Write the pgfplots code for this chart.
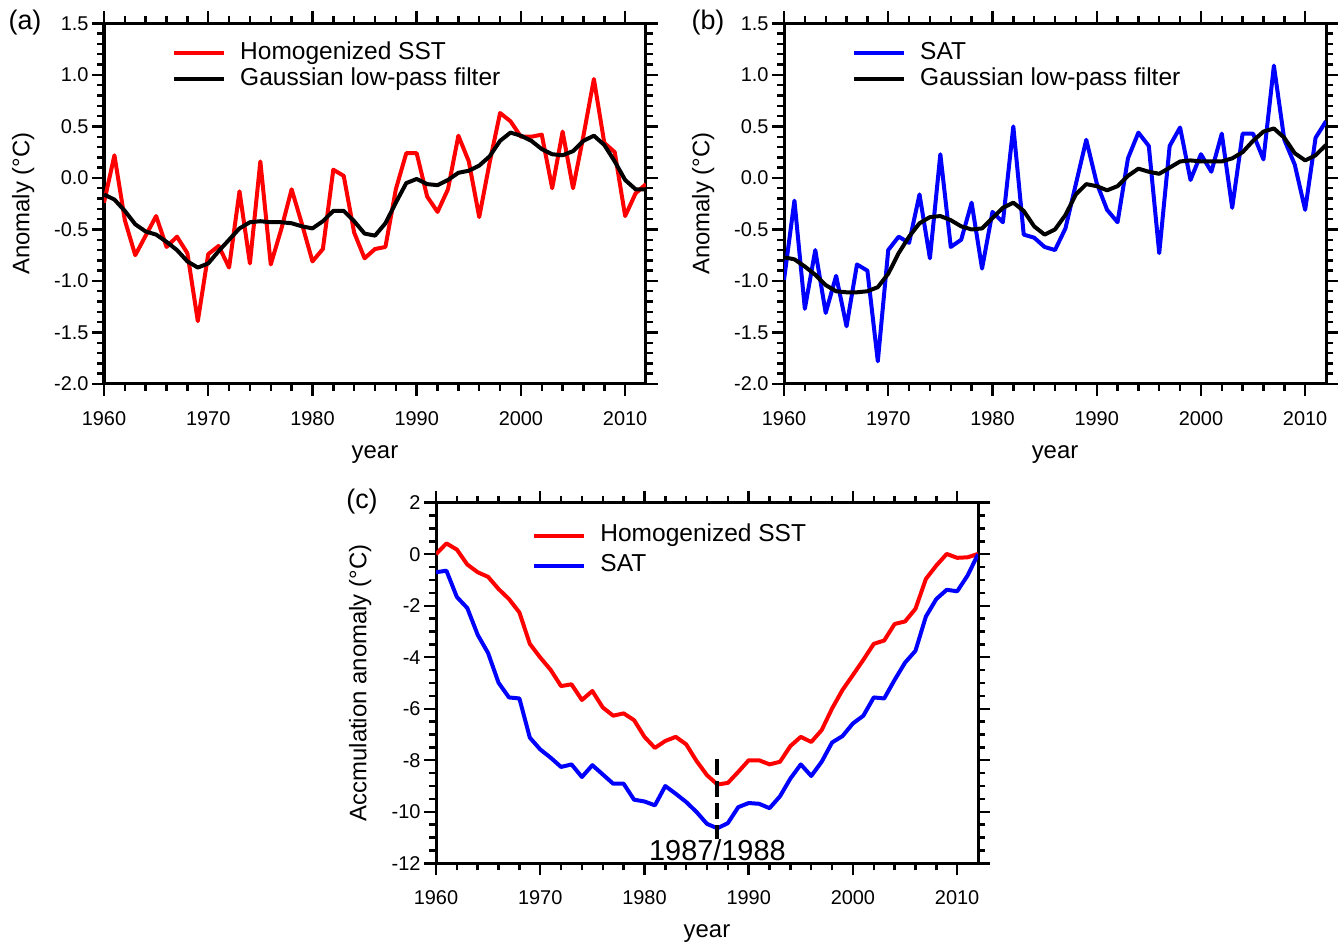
\documentclass[border=0pt]{standalone}
\usepackage{pgfplots}
\pgfplotsset{compat=1.18}
\usepackage{fontspec}
\setmainfont{Liberation Sans}

\pgfplotsset{
  myaxis/.style={
    scale only axis, width=542bp, height=360.6bp,
    xmin=1960, xmax=2012,
    xtick={1960,1970,1980,1990,2000,2010},
    minor x tick num=4,
    xtick pos=both, ytick pos=both,
    xticklabel pos=lower, yticklabel pos=left,
    tick align=outside,
    major tick length=12bp, minor tick length=7bp,
    every tick/.append style={black, line width=2.4bp},
    axis line style={line width=3bp},
    ticklabel style={font=\fontsize{20}{24}\selectfont},
    /pgf/number format/assume math mode=true,
    xticklabel style={/pgf/number format/1000 sep={}, yshift=-12bp},
    label style={font=\fontsize{24}{28}\selectfont},
    xlabel={year},
    xlabel style={at={(axis description cs:0.5,-0.195)}, anchor=center},
    legend cell align=left,
    legend image code/.code={\draw[#1] (0bp,0bp) -- (50bp,0bp);},
    legend style={draw=none, fill=none, inner sep=0bp, anchor=north west,
      font=\fontsize{24.6}{28}\selectfont,
      nodes={inner sep=0bp, text height=18bp, text depth=6bp},
      row sep=2bp,
      /tikz/every odd column/.append style={column sep=14bp}},
    every axis plot/.append style={line width=4bp, line join=round},
  },
  anomaxis/.style={
    ymin=-2, ymax=1.5,
    ytick={-2,-1.5,-1,-0.5,0,0.5,1,1.5},
    minor y tick num=4,
    yticklabel style={/pgf/number format/.cd, fixed, fixed zerofill, precision=1},
    ylabel={Anomaly (°C)},
    ylabel style={at={(axis description cs:-0.149,0.5)}, anchor=center},
  },
}

\pgfplotstableread{
year sst sstf
1960 -0.24 -0.16
1961 0.22 -0.21
1962 -0.41 -0.32
1963 -0.75 -0.45
1964 -0.56 -0.52
1965 -0.37 -0.55
1966 -0.67 -0.62
1967 -0.57 -0.70
1968 -0.73 -0.81
1969 -1.39 -0.87
1970 -0.74 -0.83
1971 -0.66 -0.71
1972 -0.87 -0.60
1973 -0.13 -0.49
1974 -0.83 -0.43
1975 0.16 -0.42
1976 -0.84 -0.43
1977 -0.50 -0.43
1978 -0.11 -0.44
1979 -0.45 -0.47
1980 -0.81 -0.49
1981 -0.69 -0.42
1982 0.08 -0.32
1983 0.02 -0.32
1984 -0.53 -0.42
1985 -0.78 -0.54
1986 -0.69 -0.56
1987 -0.67 -0.44
1988 -0.11 -0.24
1989 0.24 -0.05
1990 0.24 -0.01
1991 -0.18 -0.06
1992 -0.33 -0.07
1993 -0.11 -0.02
1994 0.41 0.05
1995 0.16 0.07
1996 -0.38 0.12
1997 0.15 0.21
1998 0.63 0.36
1999 0.55 0.44
2000 0.40 0.41
2001 0.40 0.36
2002 0.42 0.28
2003 -0.10 0.23
2004 0.45 0.22
2005 -0.10 0.26
2006 0.41 0.36
2007 0.96 0.41
2008 0.34 0.32
2009 0.25 0.16
2010 -0.37 -0.02
2011 -0.15 -0.11
2012 -0.06 -0.11
}\sstdata

\pgfplotstableread{
year sat satf
1960 -0.99 -0.77
1961 -0.22 -0.79
1962 -1.27 -0.86
1963 -0.70 -0.94
1964 -1.31 -1.04
1965 -0.95 -1.10
1966 -1.44 -1.11
1967 -0.84 -1.11
1968 -0.90 -1.10
1969 -1.78 -1.06
1970 -0.70 -0.93
1971 -0.57 -0.73
1972 -0.63 -0.57
1973 -0.16 -0.44
1974 -0.78 -0.38
1975 0.23 -0.37
1976 -0.67 -0.41
1977 -0.60 -0.47
1978 -0.24 -0.50
1979 -0.88 -0.49
1980 -0.33 -0.39
1981 -0.43 -0.29
1982 0.50 -0.24
1983 -0.55 -0.32
1984 -0.58 -0.47
1985 -0.67 -0.55
1986 -0.70 -0.50
1987 -0.49 -0.36
1988 -0.06 -0.16
1989 0.37 -0.06
1990 -0.05 -0.08
1991 -0.31 -0.12
1992 -0.43 -0.08
1993 0.19 0.02
1994 0.44 0.09
1995 0.31 0.06
1996 -0.73 0.04
1997 0.31 0.10
1998 0.49 0.16
1999 -0.02 0.17
2000 0.23 0.16
2001 0.06 0.16
2002 0.43 0.16
2003 -0.29 0.19
2004 0.43 0.25
2005 0.43 0.36
2006 0.18 0.45
2007 1.09 0.48
2008 0.37 0.39
2009 0.13 0.24
2010 -0.31 0.17
2011 0.39 0.22
2012 0.55 0.32
}\satdata

\pgfplotstableread{
year sst sat
1960 0.00 -0.70
1961 0.42 -0.64
1962 0.18 -1.66
1963 -0.40 -2.09
1964 -0.70 -3.13
1965 -0.88 -3.84
1966 -1.35 -4.99
1967 -1.74 -5.56
1968 -2.26 -5.60
1969 -3.48 -7.12
1970 -4.01 -7.58
1971 -4.49 -7.90
1972 -5.12 -8.26
1973 -5.05 -8.16
1974 -5.66 -8.65
1975 -5.31 -8.19
1976 -5.95 -8.55
1977 -6.27 -8.91
1978 -6.18 -8.91
1979 -6.44 -9.53
1980 -7.09 -9.60
1981 -7.52 -9.75
1982 -7.25 -9.00
1983 -7.09 -9.30
1984 -7.38 -9.62
1985 -8.03 -10.01
1986 -8.58 -10.47
1987 -8.94 -10.64
1988 -8.88 -10.44
1989 -8.45 -9.82
1990 -8.00 -9.66
1991 -8.00 -9.69
1992 -8.16 -9.86
1993 -8.06 -9.40
1994 -7.45 -8.71
1995 -7.09 -8.16
1996 -7.29 -8.61
1997 -6.83 -8.06
1998 -5.99 -7.31
1999 -5.27 -7.06
2000 -4.69 -6.57
2001 -4.10 -6.27
2002 -3.48 -5.56
2003 -3.35 -5.60
2004 -2.71 -4.88
2005 -2.61 -4.21
2006 -2.12 -3.75
2007 -0.96 -2.42
2008 -0.44 -1.74
2009 0.01 -1.38
2010 -0.14 -1.44
2011 -0.12 -0.83
2012 0.01 0.00
}\accdata

\begin{document}
\begin{tikzpicture}
\useasboundingbox (0bp,0bp) rectangle (1343bp,944bp);

% (a)
\begin{axis}[myaxis, anomaxis, at={(104bp,560bp)}, anchor=south west,
  legend style={at={(axis description cs:0.1255,0.951)}}]
\addplot[red] table[x=year,y=sst] {\sstdata};
\addplot[black] table[x=year,y=sstf] {\sstdata};
\legend{Homogenized SST, Gaussian low-pass filter}
\end{axis}

% (b)
\begin{axis}[myaxis, anomaxis, at={(784bp,560bp)}, anchor=south west,
  legend style={at={(axis description cs:0.1255,0.951)}}]
\addplot[blue] table[x=year,y=sat] {\satdata};
\addplot[black] table[x=year,y=satf] {\satdata};
\legend{SAT, Gaussian low-pass filter}
\end{axis}

% (c)
\begin{axis}[myaxis, at={(436bp,80.7bp)}, anchor=south west,
  ymin=-12, ymax=2, ytick={-12,-10,-8,-6,-4,-2,0,2}, minor y tick num=3,
  ylabel={Accmulation anomaly (°C)},
  ylabel style={at={(axis description cs:-0.140,0.5)}, anchor=center},
  legend style={at={(axis description cs:0.1775,0.942)}, row sep=6bp}]
\addplot[red] table[x=year,y=sst] {\accdata};
\addplot[blue] table[x=year,y=sat] {\accdata};
\addplot[black, line width=4bp, dash pattern=on 16bp off 6bp, forget plot] coordinates {(1987,-7.97) (1987,-11.05)};
\legend{Homogenized SST, SAT}
\node[font=\fontsize{29}{32}\selectfont, inner sep=0pt] at (axis cs:1987,-11.5) {1987/1988};
\end{axis}

\node[font=\fontsize{27}{30}\selectfont, inner sep=0pt] at (25bp,921.5bp) {(a)};
\node[font=\fontsize{27}{30}\selectfont, inner sep=0pt] at (708bp,921.5bp) {(b)};
\node[font=\fontsize{27}{30}\selectfont, inner sep=0pt] at (362bp,442bp) {(c)};
\end{tikzpicture}
\end{document}
